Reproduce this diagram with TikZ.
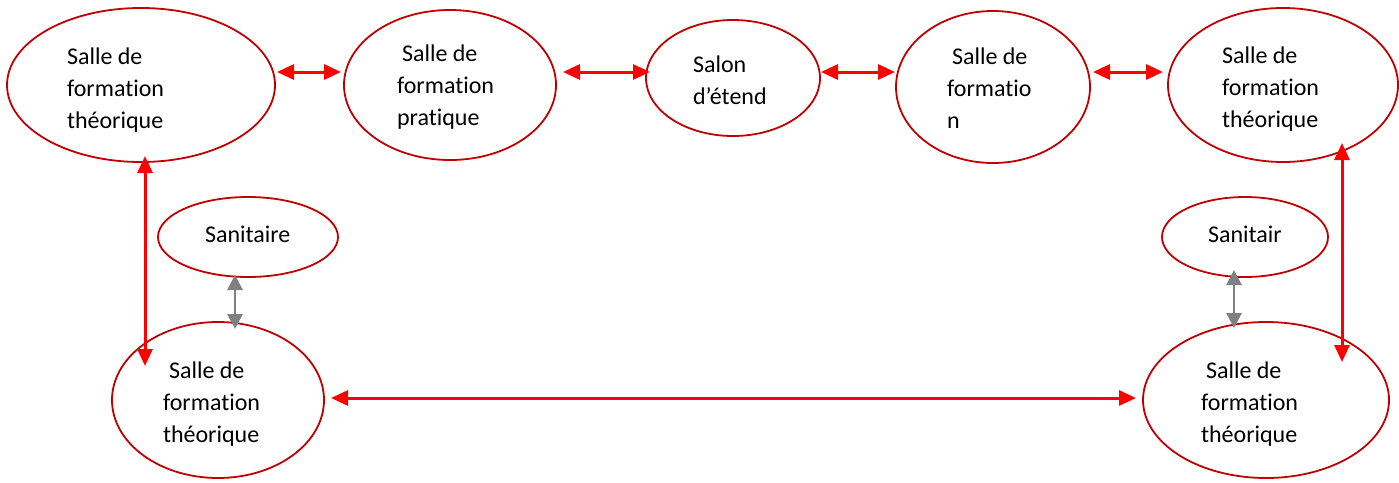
\documentclass[tikz,border=0pt]{standalone}
\usepackage{fontspec}
\setmainfont{Carlito}[Ligatures=NoCommon]
\usetikzlibrary{shapes.geometric,arrows.meta,calc}
\definecolor{ellred}{RGB}{192,0,0}
\definecolor{arrred}{RGB}{255,0,0}
\definecolor{arrgray}{RGB}{128,128,128}
\begin{document}
\begin{tikzpicture}[x=1pt,y=-1pt,
  ell/.style={ellipse,draw=ellred,line width=1.8pt,inner sep=0pt,outer sep=0pt},
  lbl/.style={anchor=base west,inner sep=0pt,outer sep=0pt,align=left,font=\fontsize{24}{32}\selectfont},
  rarr/.style={draw=arrred,line width=3pt,{Triangle[length=17pt,width=15pt]}-{Triangle[length=17pt,width=15pt]}},
  garr/.style={draw=arrgray,line width=2.8pt,{Triangle[length=15pt,width=15pt]}-{Triangle[length=15pt,width=15pt]}}]
\useasboundingbox (0,0) rectangle (1399,482);
% ellipses
\node[ell,minimum width=268pt,minimum height=154pt] (e1) at (141,85) {};
\node[ell,minimum width=212pt,minimum height=150pt] (e2) at (450,85) {};
\node[ell,minimum width=174pt,minimum height=116pt] (e3) at (733,78) {};
\node[ell,minimum width=194pt,minimum height=152pt] (e4) at (993,87) {};
\node[ell,minimum width=230pt,minimum height=154pt] (e5) at (1283,85) {};
\node[ell,minimum width=180pt,minimum height=80pt] (s1) at (248,237) {};
\node[ell,minimum width=166pt,minimum height=80pt] (s2) at (1245,237) {};
\node[ell,minimum width=212pt,minimum height=156pt] (bl) at (218,400) {};
\node[ell,minimum width=246pt,minimum height=156pt] (br) at (1266,400) {};
% texts (anchored at the baseline of the last line)
\node[lbl] (t1) at (67,128) {Salle de\\formation\\théorique};
\node[lbl] (t2) at (397,125) {\hspace*{5pt}Salle de\\formation\\pratique};
\node[lbl] (t3) at (693,104) {Salon\\d’étend};
\node[lbl] (t4) at (947,128) {\hspace*{5pt}Salle de\\formatio\\n};
\node[lbl] (t5) at (1222,127) {Salle de\\formation\\théorique};
\node[lbl] (ts1) at (205,242) {Sanitaire};
\node[lbl] (ts2) at (1208,242) {Sanitair};
\node[lbl] (t6) at (163,442) {\hspace*{6pt}Salle de\\formation\\théorique};
\node[lbl] (t7) at (1201,442) {\hspace*{5pt}Salle de\\formation\\théorique};
% connectors
\draw[rarr] ([xshift=2pt]e1.east |- 0,72) -- ([xshift=-3pt]e2.west |- 0,72);
\draw[rarr] ([xshift=7pt]e2.east |- 0,72) -- ([xshift=4pt]e3.west |- 0,72);
\draw[rarr] ([xshift=1pt]e3.east |- 0,72) -- ([xshift=-1pt]e4.west |- 0,72);
\draw[rarr] ([xshift=3pt]e4.east |- 0,72) -- ([xshift=-5pt]e5.west |- 0,72);
\draw[rarr] ($(e1.south)+(4,-6)$) -- ($(bl.center)+(-73,-34)$);
\draw[rarr] ($(e5.center)+(59,58)$) -- ($(br.center)+(76,-38)$);
\draw[rarr] ([xshift=7pt]bl.east |- 0,398) -- ([xshift=-7pt]br.west |- 0,398);
\draw[garr] ($(s1.south)+(-13,-2)$) -- ($(bl.north)+(17,7)$);
\draw[garr] ($(s2.south)+(-11,-7)$) -- ($(br.north)+(-32,6)$);
\end{tikzpicture}
\end{document}
